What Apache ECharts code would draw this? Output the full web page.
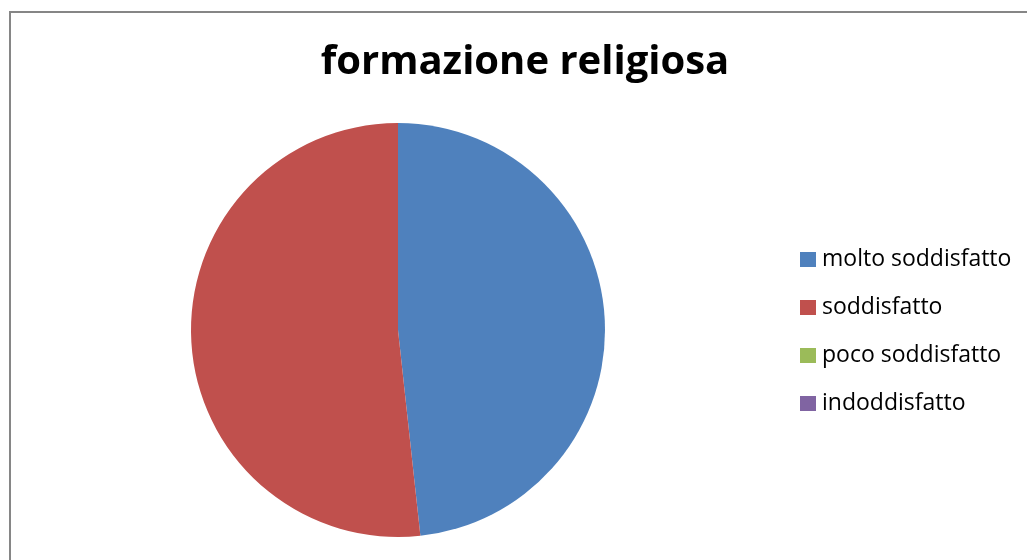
<!DOCTYPE html>
<html>
<head>
<meta charset="utf-8">
<script src="https://cdn.jsdelivr.net/npm/echarts@6/dist/echarts.min.js"></script>
<style>
  html, body { margin: 0; padding: 0; background: #fff; overflow: hidden; }
  #wrap { position: relative; width: 1027px; height: 560px; overflow: hidden; }
  #chart { width: 1027px; height: 560px; }
  #frame { position: absolute; left: 9px; top: 11px; width: 1100px; height: 700px;
           border-left: 2px solid #868686; border-top: 2px solid #868686; pointer-events: none; }
</style>
</head>
<body>
<div id="wrap">
  <div id="chart"></div>
  <div id="frame"></div>
</div>
<script>
var categories = ['molto soddisfatto', 'soddisfatto', 'poco soddisfatto', 'indoddisfatto'];
var values = [14, 15, 0, 0];
var colors = ['#4F81BD', '#C0504D', '#9BBB59', '#8064A2'];

var pieData = categories.map(function (name, i) {
  return { name: name, value: values[i] };
});

var option = {
  animation: false,
  color: colors,
  title: {
    text: 'formazione religiosa',
    left: 520,
    textAlign: 'center',
    top: 38,
    textStyle: {
      fontFamily: 'Open Sans',
      fontWeight: 'bold',
      fontSize: 40,
      color: '#000'
    }
  },
  legend: {
    orient: 'vertical',
    left: 795,
    top: 243,
    icon: 'rect',
    itemWidth: 16,
    itemHeight: 15,
    itemGap: 25,
    data: categories,
    textStyle: {
      fontFamily: 'Open Sans',
      fontSize: 23,
      color: '#000',
      padding: [0, 0, 0, 1]
    }
  },
  series: [{
    type: 'pie',
    center: [398, 330],
    radius: 207,
    startAngle: 90,
    clockwise: true,
    label: { show: false },
    labelLine: { show: false },
    itemStyle: { borderWidth: 0 },
    emphasis: { disabled: true },
    data: pieData
  }]
};

var myChart = echarts.init(document.getElementById('chart'));
myChart.setOption(option);
</script>
</body>
</html>
